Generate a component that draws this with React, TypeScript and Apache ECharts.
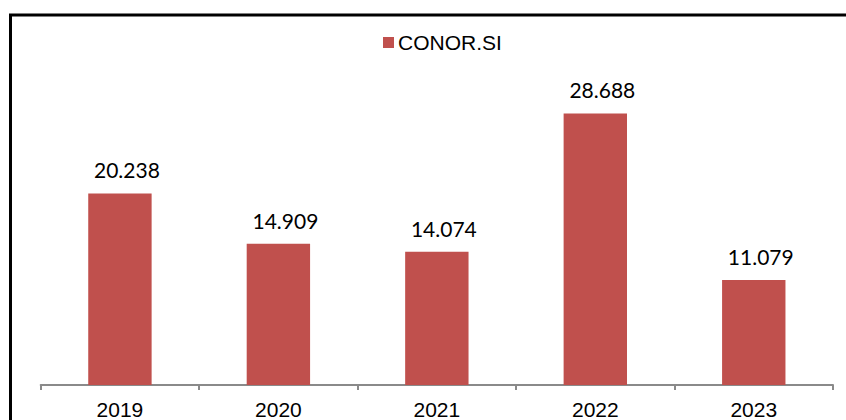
import React, { useEffect, useRef } from "react";
import * as echarts from "echarts";

const categories = ["2019", "2020", "2021", "2022", "2023"];
const seriesName = "CONOR.SI";
const values = [20.238, 14.909, 14.074, 28.688, 11.079];

export default function App() {
  const ref = useRef<HTMLDivElement>(null);
  useEffect(() => {
    document.body.style.margin = "0";
    const chart = echarts.init(ref.current!, null, { renderer: "svg" });
    chart.setOption({
      animation: false,
      backgroundColor: "#ffffff",
      graphic: [
        {
          type: "rect",
          shape: { x: 10.5, y: 15, width: 900, height: 500 },
          style: { fill: "none", stroke: "#000000", lineWidth: 3 },
          silent: true,
          z: 10,
        },
      ],
      legend: {
        data: [seriesName],
        left: 378,
        top: 27,
        icon: "rect",
        itemWidth: 11,
        itemHeight: 11,
        itemGap: 4,
        textStyle: {
          fontFamily: "Liberation Sans",
          fontSize: 21,
          color: "#000000",
          padding: [0, 0, 0, -1],
        },
      },
      grid: { left: 40.7, right: 13, top: 101, bottom: 33.3, containLabel: false },
      xAxis: {
        type: "category",
        data: categories,
        axisLine: { show: true, lineStyle: { color: "#8a8a8a", width: 2 } },
        axisTick: { show: true, length: 5, lineStyle: { color: "#8a8a8a", width: 2 } },
        axisLabel: {
          fontFamily: "Liberation Sans",
          fontSize: 21,
          color: "#000000",
          margin: 14,
        },
      },
      yAxis: {
        type: "value",
        min: 0,
        max: 30,
        show: false,
        splitLine: { show: false },
      },
      series: [
        {
          name: seriesName,
          type: "bar",
          data: values,
          barWidth: "40%",
          itemStyle: { color: "#C0504D" },
          label: {
            show: true,
            position: "top",
            distance: 13,
            offset: [7, 0],
            fontFamily: "Lato",
            fontSize: 21,
            color: "#000000",
            formatter: (p: any) => p.value.toFixed(3),
          },
        },
      ],
    });
    return () => chart.dispose();
  }, []);
  return (
    <div
      ref={ref}
      style={{ position: "fixed", left: 0, top: 0, width: 846, height: 420 }}
    />
  );
}
